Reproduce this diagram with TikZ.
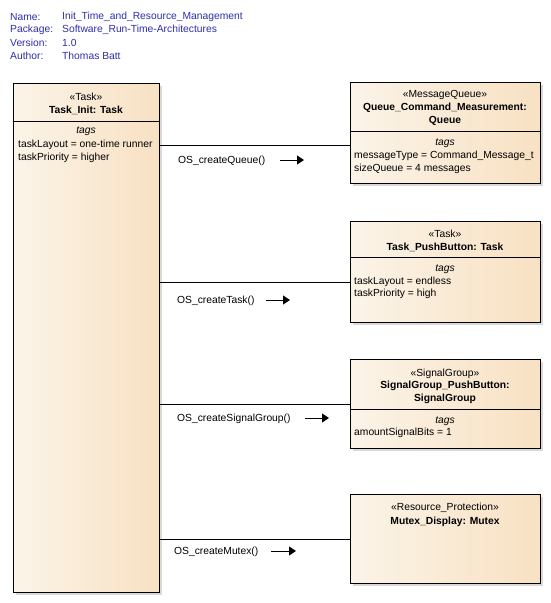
\documentclass[tikz,border=0pt]{standalone}
\usepackage{fontspec}
\setmainfont{Liberation Sans}
\usepackage{tikz}
\usetikzlibrary{arrows.meta,positioning,shadows}
\definecolor{boxleft}{RGB}{251,244,232}
\definecolor{boxright}{RGB}{248,225,195}
\definecolor{metablue}{RGB}{45,45,175}
\newcommand{\ul}{\_}

\begin{document}
\begin{tikzpicture}[x=1pt,y=-1pt]
\tikzstyle{every node}=[font=\fontsize{10.3}{12}\selectfont, inner sep=0pt, yshift=-1.2pt];
\tikzstyle{umlbox}=[draw, line width=1pt, left color=boxleft, right color=boxright, yshift=1.2pt, drop shadow={shadow xshift=3pt, shadow yshift=-3pt, fill=black!15, opacity=1}];
\tikzstyle{meta}=[anchor=west, text=metablue];
\tikzstyle{tag}=[anchor=west];
\tikzstyle{callarrow}=[line width=1pt, -{Triangle[length=7pt,width=9pt]}];
\useasboundingbox (0,0) rectangle (551,603);
% header
\path (10,16) node (namekey)[meta] {Name:}
(62,16) node (nameval)[meta] {Init\ul Time\ul and\ul Resource\ul Management}
(10,29) node (packagekey)[meta] {Package:}
(62,29) node (packageval)[meta] {Software\ul Run-Time-Architectures}
(10,42) node (versionkey)[meta] {Version:}
(62,42) node (versionval)[meta] {1.0}
(10,55) node (authorkey)[meta] {Author:}
(62,55) node (authorval)[meta] {Thomas Batt};
% boxes
\path (86,337.5) node (taskinit)[umlbox, minimum width=146, minimum height=509] {}
(445,132.5) node (queue)[umlbox, minimum width=190, minimum height=101] {}
(445,271.5) node (pushtask)[umlbox, minimum width=190, minimum height=101] {}
(445,403.5) node (signal)[umlbox, minimum width=190, minimum height=89] {}
(445,538.5) node (mutex)[umlbox, minimum width=190, minimum height=89] {};
\draw[line width=1pt] (taskinit.west |- 0,121) -- (taskinit.east |- 0,121);
\draw[line width=1pt] (queue.west |- 0,131) -- (queue.east |- 0,131);
\draw[line width=1pt] (pushtask.west |- 0,257) -- (pushtask.east |- 0,257);
\draw[line width=1pt] (signal.west |- 0,409) -- (signal.east |- 0,409);
% Task_Init
\path (86,96) node (taskinitst) {«Task»}
(86,109) node (taskinitname) {\bfseries Task\ul Init: Task}
(86,130) node (taskinittags) {\itshape tags}
(18,144) node (taskinitlayout)[tag] {taskLayout = one-time runner}
(18,157) node (taskinitprio)[tag] {taskPriority = higher};
% Queue
\path (445,94) node (queuest) {«MessageQueue»}
(445,107) node (queuename) {\bfseries Queue\ul Command\ul Measurement:}
(445,120) node (queuetype) {\bfseries Queue}
(445,142) node (queuetags) {\itshape tags}
(354,155) node (queuemsg)[tag] {messageType = Command\ul Message\ul t}
(354,168) node (queuesize)[tag] {sizeQueue = 4 messages};
% Task_PushButton
\path (445,233) node (pushtaskst) {«Task»}
(445,246) node (pushtaskname) {\bfseries Task\ul PushButton: Task}
(445,268) node (pushtasktags) {\itshape tags}
(354,281) node (pushtasklayout)[tag] {taskLayout = endless}
(354,293) node (pushtaskprio)[tag] {taskPriority = high};
% SignalGroup
\path (445,373) node (signalst) {«SignalGroup»}
(445,385) node (signalname) {\bfseries SignalGroup\ul PushButton:}
(445,398) node (signaltype) {\bfseries SignalGroup}
(445,420) node (signaltags) {\itshape tags}
(354,432) node (signalbits)[tag] {amountSignalBits = 1};
% Mutex
\path (445,507) node (mutexst) {«Resource\ul Protection»}
(445,521) node (mutexname) {\bfseries Mutex\ul Display: Mutex};
% connectors
\draw[line width=1pt] (taskinit.east |- 0,145) -- (queue.west |- 0,145);
\draw[line width=1pt] (taskinit.east |- 0,282) -- (pushtask.west |- 0,282);
\draw[line width=1pt] (taskinit.east |- 0,404) -- (signal.west |- 0,404);
\draw[line width=1pt] (taskinit.east |- 0,539) -- (mutex.west |- 0,539);
\path (178,160) node (callqueue)[tag] {OS\ul createQueue()}
(177,300) node (calltask)[tag] {OS\ul createTask()}
(177,418) node (callsignal)[tag] {OS\ul createSignalGroup()}
(174,551) node (callmutex)[tag] {OS\ul createMutex()};
\draw[callarrow] (280,160) coordinate (qfrom) -- (304,160) coordinate (qto);
\draw[callarrow] (266,300) coordinate (tfrom) -- (290,300) coordinate (tto);
\draw[callarrow] (305,418) coordinate (sfrom) -- (329,418) coordinate (sto);
\draw[callarrow] (271,551) coordinate (mfrom) -- (296,551) coordinate (mto);
\end{tikzpicture}
\end{document}
